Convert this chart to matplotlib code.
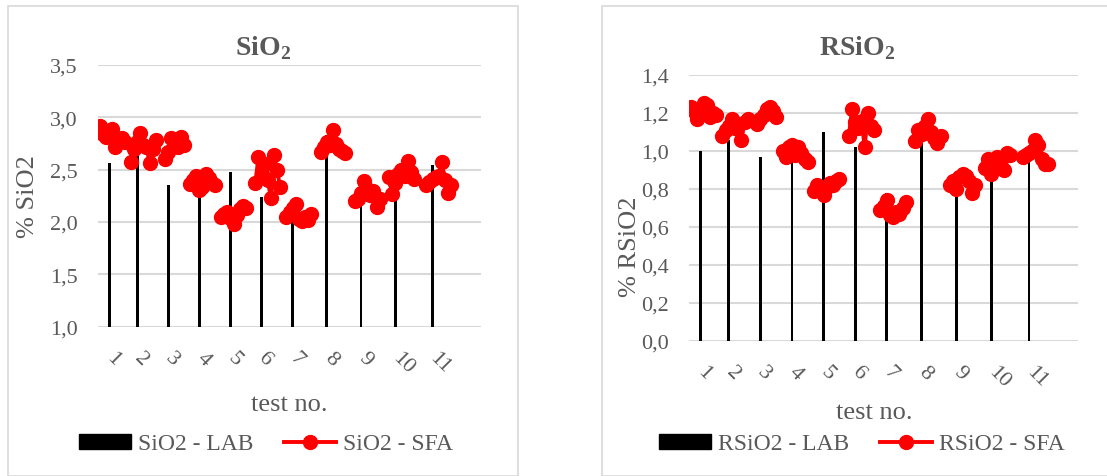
import numpy as np
import matplotlib
matplotlib.use("Agg")
import matplotlib.pyplot as plt
from matplotlib.lines import Line2D
from matplotlib.patches import Patch, Rectangle

plt.rcParams["font.family"] = ["Liberation Serif", "DejaVu Serif"]
plt.rcParams["mathtext.fontset"] = "custom"
plt.rcParams["mathtext.rm"] = "Liberation Serif"
plt.rcParams["mathtext.bf"] = "Liberation Serif:bold"

# ========= data =========
tests = ["1", "2", "3", "4", "5", "6", "7", "8", "9", "10", "11"]

# sheet layout: blank rows before each test block, row of the LAB value inside a block
blank_before = [0, 1, 2, 1, 1, 2, 1, 2, 2, 2, 3]
blank_after = 9
lab_row = [3, 2, 1, 3, 3, 2, 2, 2, 2, 2, 2]

sio2_lab = [2.56, 2.63, 2.35, 2.28, 2.48, 2.24, 2.02, 2.83, 2.18, 2.25, 2.54]
sio2_sfa = [
    [2.92, 2.84, 2.81, 2.83, 2.89, 2.72, 2.77, 2.80, 2.76],
    [2.57, 2.70, 2.76, 2.85, 2.74, 2.72, 2.56, 2.70, 2.78],
    [2.60, 2.67, 2.80, 2.73, 2.72, 2.81, 2.74],
    [2.36, 2.40, 2.44, 2.31, 2.33, 2.46, 2.42, 2.37, 2.35],
    [2.05, 2.08, 2.10, 2.04, 1.98, 2.07, 2.12, 2.15, 2.13],
    [2.37, 2.62, 2.46, 2.55, 2.40, 2.23, 2.64, 2.50, 2.33],
    [2.05, 2.10, 2.13, 2.17, 2.03, 2.01, 2.05, 2.02, 2.08],
    [2.67, 2.72, 2.76, 2.74, 2.88, 2.75, 2.70, 2.68, 2.66],
    [2.20, 2.22, 2.28, 2.39, 2.32, 2.26, 2.30, 2.14, 2.22],
    [2.43, 2.27, 2.37, 2.46, 2.50, 2.44, 2.58, 2.48, 2.41],
    [2.35, 2.38, 2.41, 2.43, 2.44, 2.57, 2.40, 2.28, 2.35],
]

rsio2_lab = [1.00, 1.06, 0.97, 0.95, 1.10, 1.02, 0.78, 1.05, 0.80, 0.88, 0.97]
rsio2_sfa = [
    [1.23, 1.21, 1.17, 1.20, 1.25, 1.24, 1.18, 1.20, 1.19],
    [1.08, 1.11, 1.13, 1.17, 1.12, 1.14, 1.06, 1.15, 1.17],
    [1.14, 1.17, 1.19, 1.22, 1.23, 1.21, 1.18],
    [1.00, 0.97, 1.02, 1.03, 0.98, 1.02, 0.99, 0.96, 0.94],
    [0.79, 0.82, 0.80, 0.77, 0.81, 0.83, 0.82, 0.84, 0.85],
    [1.08, 1.22, 1.15, 1.12, 1.16, 1.02, 1.20, 1.13, 1.11],
    [0.69, 0.71, 0.74, 0.66, 0.65, 0.68, 0.67, 0.70, 0.73],
    [1.05, 1.11, 1.09, 1.13, 1.17, 1.10, 1.07, 1.04, 1.08],
    [0.82, 0.84, 0.80, 0.86, 0.88, 0.87, 0.84, 0.78, 0.82],
    [0.91, 0.96, 0.88, 0.94, 0.97, 0.95, 0.90, 0.99, 0.98],
    [0.97, 0.98, 0.99, 1.00, 1.06, 1.03, 0.96, 0.93, 0.93],
]

GRAY = "#595959"
GRID = "#d9d9d9"
W, H = 1107, 477


def build_columns(lab, sfa):
    """Lay the per-test readings out as one spreadsheet column (NaN = empty cell)."""
    lab_col, sfa_col, tick_pos = [], [], []
    for k in range(len(sfa)):
        lab_col += [np.nan] * blank_before[k]
        sfa_col += [np.nan] * blank_before[k]
        start = len(sfa_col)
        block_lab = [np.nan] * len(sfa[k])
        block_lab[lab_row[k]] = lab[k]
        lab_col += block_lab
        sfa_col += sfa[k]
        tick_pos.append(start + lab_row[k])
    lab_col += [np.nan] * blank_after
    sfa_col += [np.nan] * blank_after
    return np.array(lab_col), np.array(sfa_col), tick_pos


def px_axes(fig, x0, y_top, x1, y_bot):
    return fig.add_axes([x0 / W, 1 - y_bot / H, (x1 - x0) / W, (y_bot - y_top) / H])


def draw_panel(fig, rect, lab, sfa, yticks, ylim, name, title, box_x, title_xy,
               ylabel_xy, xlabel_xy, legend_xy):
    ax = px_axes(fig, *rect)
    lab_col, sfa_col, tick_pos = build_columns(lab, sfa)
    x = np.arange(len(sfa_col))
    ax.bar(x, np.nan_to_num(lab_col, nan=0.0), width=0.9, color="black", zorder=2)
    ax.plot(x, sfa_col, color="#ff0000", lw=2.8, marker="o", ms=10, zorder=3)
    ax.set_xlim(-0.5, len(x) - 0.5)
    ax.set_ylim(*ylim)
    ax.set_yticks(yticks)
    ax.set_yticklabels([f"{v:.1f}".replace(".", ",") for v in yticks])
    ax.set_xticks(tick_pos)
    ax.set_xticklabels(tests, rotation=-45, ha="left", va="center", rotation_mode="anchor")
    ax.yaxis.grid(True, color=GRID, lw=1.5)
    ax.set_axisbelow(True)
    for s in ax.spines.values():
        s.set_visible(False)
    ax.tick_params(axis="y", length=0, pad=15, labelsize=16, labelcolor=GRAY)
    ax.tick_params(axis="x", length=0, pad=20, labelsize=16, labelcolor=GRAY)

    # chart frame
    fig.patches.append(Rectangle((box_x[0] / W, 0), (box_x[1] - box_x[0]) / W, 1 - 7 / H,
                                 transform=fig.transFigure, fill=False,
                                 edgecolor=GRID, lw=1.2))
    fig.text(title_xy[0] / W, 1 - title_xy[1] / H, title, ha="center", va="center",
             fontsize=20, fontweight="bold", color=GRAY)
    fig.text(ylabel_xy[0] / W, 1 - ylabel_xy[1] / H, f"% {name}", rotation=90,
             ha="center", va="center", fontsize=19, color=GRAY)
    fig.text(xlabel_xy[0] / W, 1 - xlabel_xy[1] / H, "test no.", ha="center",
             va="center", fontsize=19, color=GRAY)
    handles = [Patch(color="black"),
               Line2D([0], [0], color="#ff0000", lw=2.8, marker="o", ms=10)]
    leg = fig.legend(handles, [f"{name} - LAB", f"{name} - SFA"], loc="center",
                     bbox_to_anchor=(legend_xy[0] / W, 1 - legend_xy[1] / H), ncol=2,
                     frameon=False, fontsize=17, handlelength=2.2, handleheight=0.6,
                     handletextpad=0.3, columnspacing=1.3)
    for t in leg.get_texts():
        t.set_color(GRAY)
    return ax


fig = plt.figure(figsize=(W / 100, H / 100), dpi=100)

draw_panel(fig, (98.3, 66.0, 480.7, 327.7), sio2_lab, sio2_sfa,
           np.arange(1.0, 3.51, 0.5), (1.0, 3.5), "SiO2", r"SiO$_{\mathbf{2}}$",
           (8, 518), (263, 48), (28, 197), (289, 405), (266, 445))
draw_panel(fig, (689.3, 76.0, 1078.0, 341.7), rsio2_lab, rsio2_sfa,
           np.arange(0.0, 1.41, 0.2), (0.0, 1.4), "RSiO2", r"RSiO$_{\mathbf{2}}$",
           (602, 1112), (857, 48), (630, 247), (874, 413), (862, 445))

fig.savefig("out.png", dpi=100)
